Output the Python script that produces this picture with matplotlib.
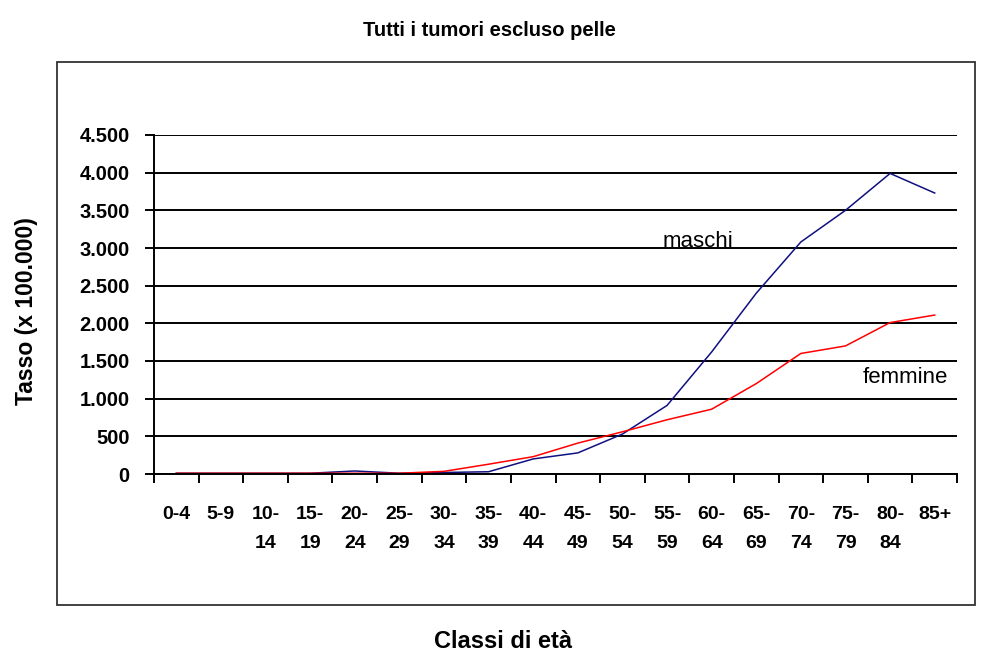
import matplotlib
matplotlib.use("Agg")
import matplotlib.pyplot as plt
import matplotlib.font_manager as fm
from matplotlib.patches import Rectangle
from matplotlib.ticker import FuncFormatter, FixedLocator

categories = ["0-4", "5-9", "10-\n14", "15-\n19", "20-\n24", "25-\n29", "30-\n34", "35-\n39",
              "40-\n44", "45-\n49", "50-\n54", "55-\n59", "60-\n64", "65-\n69", "70-\n74",
              "75-\n79", "80-\n84", "85+"]
maschi = [10, 10, 10, 10, 40, 10, 20, 30, 200, 280, 530, 910, 1620, 2400, 3080, 3500, 3990, 3730]
femmine = [10, 10, 10, 10, 10, 10, 35, 130, 230, 410, 560, 720, 860, 1200, 1600, 1700, 2010, 2110]
yticks = [0, 500, 1000, 1500, 2000, 2500, 3000, 3500, 4000, 4500]

names = {f.name for f in fm.fontManager.ttflist}
narrow = "Liberation Sans Narrow" if "Liberation Sans Narrow" in names else "Liberation Sans"
plt.rcParams["font.family"] = [narrow, "DejaVu Sans"]

W, H = 983, 658
fig = plt.figure(figsize=(W / 100, H / 100), dpi=100)

def fx(px):
    return px / W

def fy(py):
    return 1 - py / H

# outer chart box
fig.patches.append(Rectangle((fx(57), fy(605)), fx(975) - fx(57), fy(62) - fy(605),
                             transform=fig.transFigure, fill=False, edgecolor="#333333",
                             linewidth=1.3))

ax = fig.add_axes([fx(154), fy(474), fx(957) - fx(154), fy(135) - fy(474)])
x = list(range(len(categories)))
ax.plot(x, maschi, color="#101080", linewidth=1.1)
ax.plot(x, femmine, color="#ff0000", linewidth=1.1)

ax.set_xlim(-0.5, len(categories) - 0.5)
ax.set_ylim(0, 4500)
ax.set_yticks(yticks)
ax.yaxis.set_major_formatter(FuncFormatter(lambda v, p: f"{int(v):,}".replace(",", ".")))
ax.grid(axis="y", color="black", linewidth=1.4)
ax.set_axisbelow(True)
for s in ["top", "right"]:
    ax.spines[s].set_visible(False)
ax.spines["left"].set_linewidth(1.4)
ax.spines["bottom"].set_linewidth(1.4)

ax.xaxis.set_major_locator(FixedLocator([i - 0.5 for i in range(len(categories) + 1)]))
ax.xaxis.set_minor_locator(FixedLocator(x))
ax.set_xticklabels([], minor=False)
ax.set_xticklabels(categories, minor=True)
ax.tick_params(axis="x", which="major", length=6.5, width=1.4, direction="out")
ax.tick_params(axis="x", which="minor", length=0, pad=23, labelsize=14)
for lab in ax.get_xticklabels(minor=True):
    lab.set_fontweight("bold")
    lab.set_verticalalignment("top")
    lab.set_linespacing(1.95)
ax.tick_params(axis="y", length=6.5, width=1.4, direction="out", labelsize=14.5, pad=11)
for lab in ax.get_yticklabels():
    lab.set_fontweight("bold")

ax.text(x[12] - 0.3, 3090, "maschi", fontsize=16, ha="center", va="center")
ax.text(16.35, 1280, "femmine", fontsize=16, ha="center", va="center")

fig.text(fx(489), fy(31), "Tutti i tumori escluso pelle", fontsize=14.5, fontweight="bold",
         ha="center", va="center")
fig.text(fx(503), fy(642), "Classi di età", fontsize=17, fontweight="bold",
         ha="center", va="center")
fig.text(fx(27), fy(311), "Tasso (x 100.000)", fontsize=16.5, fontweight="bold",
         ha="center", va="center", rotation=90)

fig.savefig("out.png", dpi=100)
